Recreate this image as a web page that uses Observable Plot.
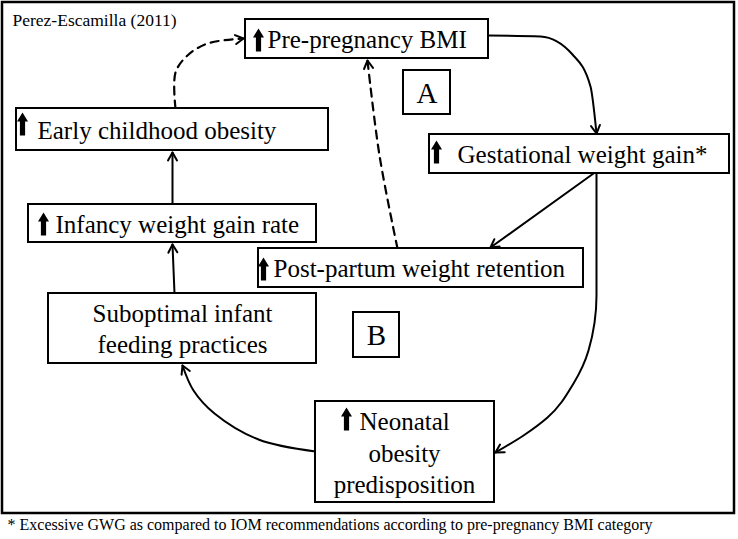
<!DOCTYPE html>
<html>
<head>
<meta charset="utf-8">
<script src="https://cdn.jsdelivr.net/npm/d3@7"></script>
<script src="https://cdn.jsdelivr.net/npm/@observablehq/plot@0.6"></script>
<style>
  html, body { margin: 0; padding: 0; background: #fff; }
  svg { display: block; }
</style>
</head>
<body>
<div id="chart"></div>
<script>
// ---- Diagram content ----
const title = "Perez-Escamilla (2011)";
const footnote = "* Excessive GWG as compared to IOM recommendations according to pre-pregnancy BMI category";

// node ids and their box layout (diagram coordinates, px)
const nodeIds   = ["bmi", "gwg", "eco", "iwg", "ppwr", "sifp", "nop", "A", "B"];
const nodeX1    = [245, 429, 16, 28, 258, 48, 315, 403, 353];
const nodeY1    = [19, 134, 108, 204, 248, 293, 401, 70, 312];
const nodeX2    = [488, 729, 328, 316, 583, 316, 494, 450, 399];
const nodeY2    = [58, 173, 150, 242, 287, 363, 502, 114, 357];

// left-aligned text lines (follow an up-arrow icon)
const startText = ["Pre-pregnancy BMI", "Gestational weight gain*", "Early childhood obesity",
                   "Infancy weight gain rate", "Post-partum weight retention", "Neonatal"];
const startX    = [267, 457, 37, 55, 273, 359];
const startY    = [39, 154, 130, 224, 268, 421];

// centred text lines
const midText   = ["Suboptimal infant", "feeding practices", "obesity", "predisposition"];
const midX      = [182, 182, 404, 404];
const midY      = [313, 344, 453, 484];

// panel letters
const panelText = ["A", "B"];
const panelX    = [426.5, 376];
const panelY    = [93, 335];

// "increase" up-arrow icons (x centre, y bottom)
const iconX = [258, 436, 22, 43, 263, 346];
const iconY = [51, 163, 135, 235, 280, 430];

// causal links (control points, in drawing order: tail -> head)
const links = [
  {id: "bmi-gwg",  dashed: false, curve: "monotone-x",  pts: [[488,35],[540,36],[572,54],[590,86],[596,133]]},
  {id: "gwg-ppwr", dashed: false, curve: "linear",      pts: [[593,173],[490,247]]},
  {id: "gwg-nop",  dashed: false, curve: "monotone-y",  pts: [[596,173],[596,295],[588,350],[573,383],[547,417],[523,435],[495,452]]},
  {id: "nop-sifp", dashed: false, curve: "catmull-rom", pts: [[315,451],[258,439],[214,413],[193,390],[182,365]]},
  {id: "sifp-iwg", dashed: false, curve: "linear",      pts: [[174,293],[172,244]]},
  {id: "iwg-eco",  dashed: false, curve: "linear",      pts: [[172,204],[172,152]]},
  {id: "eco-bmi",  dashed: true,  curve: "catmull-rom", pts: [[175,108],[175,72],[187,55],[207,43],[243,38]]},
  {id: "ppwr-bmi", dashed: true,  curve: "catmull-rom", pts: [[397,248],[379,155],[367,60]]}
];

// ---- build tables ----
const nodes = nodeIds.map((id, i) => ({id, x1: nodeX1[i], y1: nodeY1[i], x2: nodeX2[i], y2: nodeY2[i]}));
const startRows = startText.map((t, i) => ({t, x: startX[i], y: startY[i]}));
const midRows = midText.map((t, i) => ({t, x: midX[i], y: midY[i]}));
const panelRows = panelText.map((t, i) => ({t, x: panelX[i], y: panelY[i]}));
const icons = iconX.map((x, i) => ({x, y: iconY[i]}));
const heads = links.map(d => {
  const n = d.pts.length;
  const [xa, ya] = d.pts[n - 2], [xb, yb] = d.pts[n - 1];
  return {x: xb, y: yb, r: Math.atan2(xb - xa, -(yb - ya)) * 180 / Math.PI};
});

const upIcon = {
  draw(ctx, l) {
    const hw = 2.6, hh = 9, headW = 5.5;
    ctx.moveTo(-hw, 0);
    ctx.lineTo(-hw, -l + hh);
    ctx.lineTo(-headW, -l + hh);
    ctx.lineTo(0, -l);
    ctx.lineTo(headW, -l + hh);
    ctx.lineTo(hw, -l + hh);
    ctx.lineTo(hw, 0);
    ctx.closePath();
  }
};
const openHead = {
  draw(ctx) {
    ctx.moveTo(-4.5, 8);
    ctx.lineTo(0, 0);
    ctx.lineTo(4.5, 8);
  }
};

const serif = "Liberation Serif, Times New Roman, serif";

const linkMarks = links.map(d => Plot.line(d.pts, {
  x: p => p[0], y: p => p[1], curve: d.curve, stroke: "black",
  strokeWidth: d.dashed ? 2.2 : 2, strokeDasharray: d.dashed ? "8,6" : null
}));

const chart = Plot.plot({
  width: 738,
  height: 539,
  margin: 0,
  x: {domain: [0, 738], range: [0, 738], axis: null},
  y: {domain: [0, 539], range: [0, 539], axis: null},
  style: {background: "white", fontFamily: serif},
  marks: [
    Plot.rect([{x1: 2, y1: 2, x2: 734, y2: 513}], {x1: "x1", y1: "y1", x2: "x2", y2: "y2", fill: "white", stroke: "black", strokeWidth: 2.5}),
    ...linkMarks,
    Plot.vector(heads, {x: "x", y: "y", rotate: "r", length: 8, shape: openHead, anchor: "start", stroke: "black", strokeWidth: 2, fill: "none"}),
    Plot.rect(nodes, {x1: "x1", y1: "y1", x2: "x2", y2: "y2", fill: "white", stroke: "black", strokeWidth: 2}),
    Plot.vector(icons, {x: "x", y: "y", length: 23, shape: upIcon, anchor: "start", fill: "black", stroke: "none"}),
    Plot.text(startRows, {x: "x", y: "y", text: "t", textAnchor: "start", fontSize: 25, fill: "black", fontFamily: serif}),
    Plot.text(midRows, {x: "x", y: "y", text: "t", textAnchor: "middle", fontSize: 25, fill: "black", fontFamily: serif}),
    Plot.text(panelRows, {x: "x", y: "y", text: "t", textAnchor: "middle", fontSize: 29, fill: "black", fontFamily: serif}),
    Plot.text([title], {x: 12, y: 20, text: d => d, textAnchor: "start", fontSize: 17.5, fill: "black", fontFamily: serif}),
    Plot.text([footnote], {x: 7, y: 524, text: d => d, textAnchor: "start", fontSize: 16, fill: "black", fontFamily: serif})
  ]
});
document.getElementById("chart").append(chart);
</script>
</body>
</html>
